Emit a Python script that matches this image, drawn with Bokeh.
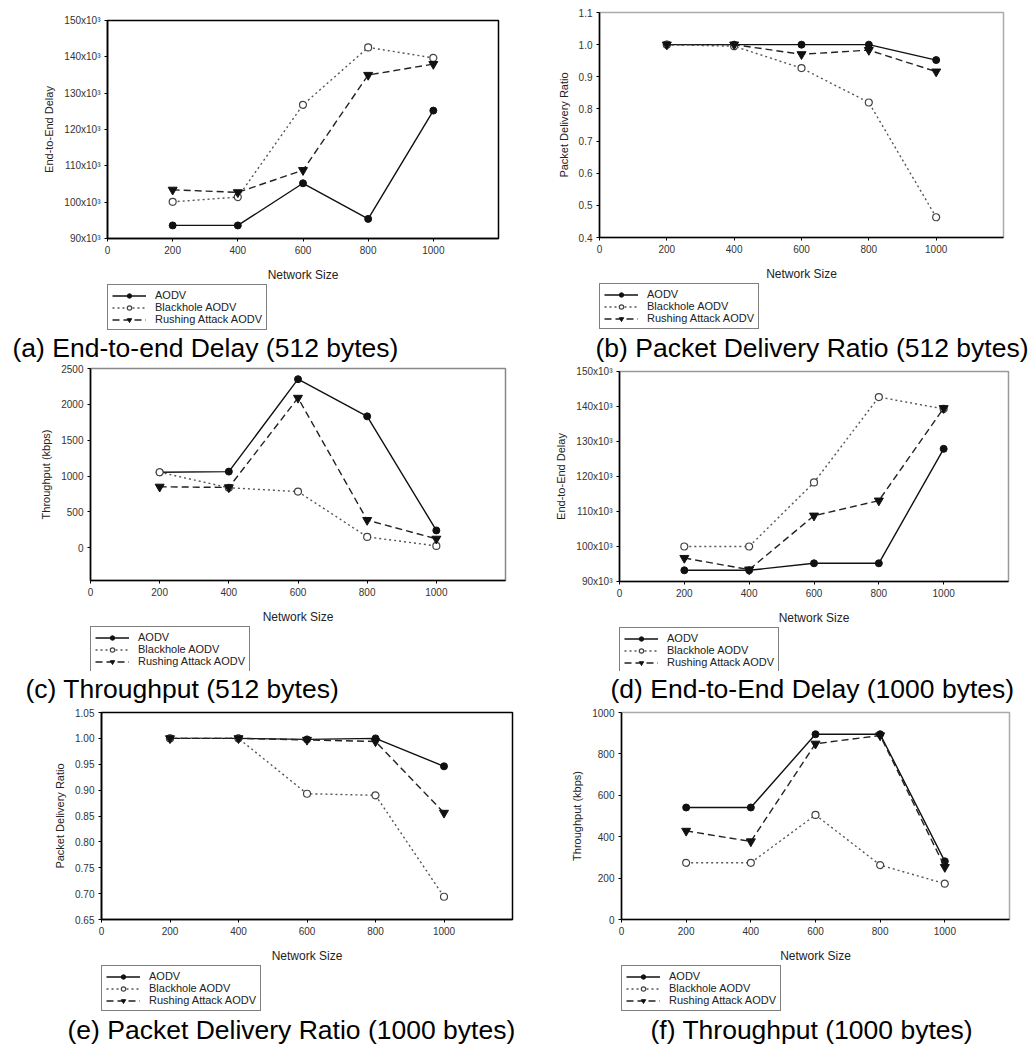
from bokeh.plotting import figure
from bokeh.layouts import column, row
from bokeh.models import Legend, LegendItem, FixedTicker, PrintfTickFormatter, Range1d
from bokeh.embed import file_html
from bokeh.resources import INLINE

# ---------------- data ----------------
network_size = [200, 400, 600, 800, 1000]
series_labels = ["AODV", "Blackhole AODV", "Rushing Attack AODV"]
x_title = "Network Size"

# (a) End-to-end delay, 512 bytes (x10^3)
a_aodv = [93.6, 93.6, 105.2, 95.4, 125.2]
a_blackhole = [100.1, 101.4, 126.8, 142.6, 139.7]
a_rushing = [103.4, 102.7, 108.8, 135.0, 138.0]
# (b) Packet delivery ratio, 512 bytes
b_aodv = [1.0, 1.0, 1.0, 1.0, 0.952]
b_blackhole = [1.0, 0.995, 0.927, 0.82, 0.463]
b_rushing = [1.0, 1.0, 0.970, 0.983, 0.916]
# (c) Throughput, 512 bytes (kbps)
c_aodv = [1054, 1063, 2351, 1833, 243]
c_blackhole = [1054, 838, 784, 153, 27]
c_rushing = [851, 842, 2090, 387, 126]
# (d) End-to-end delay, 1000 bytes (x10^3)
d_aodv = [93.2, 93.2, 95.2, 95.2, 127.9]
d_blackhole = [100.0, 100.0, 118.3, 142.7, 139.3]
d_rushing = [96.7, 93.4, 108.8, 113.1, 139.5]
# (e) Packet delivery ratio, 1000 bytes
e_aodv = [1.0, 1.0, 0.998, 1.0, 0.946]
e_blackhole = [1.0, 1.0, 0.893, 0.890, 0.694]
e_rushing = [1.0, 1.0, 0.997, 0.994, 0.856]
# (f) Throughput, 1000 bytes (kbps)
f_aodv = [541, 541, 895, 895, 281]
f_blackhole = [274, 274, 505, 263, 173]
f_rushing = [428, 377, 849, 889, 253]

x_ticks = [0, 200, 400, 600, 800, 1000]
delay_ticks = [90, 100, 110, 120, 130, 140, 150]
pdr512_ticks = [0.4, 0.5, 0.6, 0.7, 0.8, 0.9, 1.0, 1.1]
pdr1000_ticks = [0.65, 0.70, 0.75, 0.80, 0.85, 0.90, 0.95, 1.00, 1.05]
thr512_ticks = [0, 500, 1000, 1500, 2000, 2500]
thr1000_ticks = [0, 200, 400, 600, 800, 1000]

captions = [
    "(a)  End-to-end Delay (512 bytes)",
    "(b) Packet Delivery Ratio (512 bytes)",
    "(c) Throughput (512 bytes)",
    "(d) End-to-End Delay (1000 bytes)",
    "(e) Packet Delivery Ratio (1000 bytes)",
    "(f) Throughput (1000 bytes)",
]
y_titles = ["End-to-End Delay", "Packet Delivery Ratio", "Throughput (kbps)",
            "End-to-End Delay", "Packet Delivery Ratio", "Throughput (kbps)"]

FONT = "Liberation Sans"
NAN = float("nan")

STYLES = [
    dict(line=dict(line_color="#111111", line_width=1.4),
         mark=dict(marker="circle", size=7, fill_color="#111111", line_color="#111111")),
    dict(line=dict(line_color="#555555", line_width=1.4, line_dash="2 3"),
         mark=dict(marker="circle", size=7, fill_color="white", line_color="#444444",
                   line_width=1.2)),
    dict(line=dict(line_color="#222222", line_width=1.4, line_dash="7 4"),
         mark=dict(marker="inverted_triangle", size=9, fill_color="#111111",
                   line_color="#111111")),
]


def make_chart(series, y_title, y_range, y_ticks, y_fmt,
               height, borders, outline_color):
    bl, br, bt, bb = borders
    p = figure(width=515, height=height,
               min_border_left=bl, min_border_right=br,
               min_border_top=bt, min_border_bottom=bb,
               x_range=Range1d(0, 1200), y_range=Range1d(*y_range),
               output_backend="svg", toolbar_location=None)
    p.grid.visible = False
    p.background_fill_color = "white"
    p.border_fill_color = "white"
    p.outline_line_color = outline_color
    p.outline_line_width = 1.5

    p.xaxis.ticker = FixedTicker(ticks=x_ticks)
    p.yaxis.ticker = FixedTicker(ticks=y_ticks)
    p.yaxis.formatter = PrintfTickFormatter(format=y_fmt)
    p.xaxis.axis_label = x_title
    p.yaxis.axis_label = y_title
    for ax in (p.xaxis[0], p.yaxis[0]):
        ax.axis_line_color = "black"
        ax.axis_line_width = 1.6
        ax.major_tick_line_color = "black"
        ax.major_tick_out = 3
        ax.major_tick_in = 0
        ax.minor_tick_out = 0
        ax.minor_tick_in = 0
        ax.major_label_text_font = FONT
        ax.major_label_text_font_size = "10px"
        ax.major_label_text_color = "#333333"
        ax.axis_label_text_font = FONT
        ax.axis_label_text_font_size = "12px"
        ax.axis_label_text_font_style = "normal"
        ax.axis_label_text_color = "#222222"
        ax.major_label_standoff = 4
    p.xaxis.axis_label_standoff = 11
    p.yaxis.axis_label_standoff = 6
    p.yaxis.axis_label_text_font_size = "11px"

    for vals, st in zip(series, STYLES):
        p.line(network_size, vals, **st["line"])
        p.scatter(network_size, vals, **st["mark"])
    return p


def make_foot(caption, height, border_left, border_right, cap_bottom, cap_offset):
    f = figure(width=515, height=height,
               min_border_left=border_left, min_border_right=border_right,
               min_border_top=0, min_border_bottom=cap_bottom,
               x_range=Range1d(0, 1), y_range=Range1d(0, 1),
               x_axis_location=None, y_axis_location=None,
               output_backend="svg", toolbar_location=None,
               title=caption, title_location="below")
    f.grid.visible = False
    f.outline_line_color = None
    f.background_fill_color = "white"
    f.border_fill_color = "white"
    items = []
    for label, st in zip(series_labels, STYLES):
        # legend-only renderers (no visible data of their own)
        lr = f.line(x=[NAN], y=[NAN], **st["line"])
        mr = f.scatter(x=[NAN], y=[NAN], **st["mark"])
        items.append(LegendItem(label=label, renderers=[lr, mr]))
    legend = Legend(items=items, location="top_left", orientation="vertical",
                    label_text_font=FONT, label_text_font_size="11px",
                    label_text_color="#222222",
                    glyph_width=34, glyph_height=11, label_height=11,
                    label_standoff=9, spacing=0, padding=4, margin=0,
                    border_line_color="black", border_line_width=1.5,
                    background_fill_color="white")
    f.add_layout(legend, "center")
    f.title.text_font = FONT
    f.title.text_font_size = "26.5px"
    f.title.text_font_style = "normal"
    f.title.text_color = "black"
    f.title.align = "left"
    f.title.offset = cap_offset
    f.title.standoff = 0
    return f


borders_frame_h = [224, 230, 220, 217, 216, 216]


def cell(series, idx, y_range, y_ticks, y_fmt, cell_h, borders, outline,
         cap_bottom, cap_offset):
    bl, br, bt, bb = borders
    chart_h = bt + borders_frame_h[idx] + bb
    chart = make_chart(series, y_titles[idx], y_range, y_ticks, y_fmt,
                       chart_h, borders, outline)
    foot = make_foot(captions[idx], cell_h - chart_h, bl, br, cap_bottom, cap_offset)
    return column(chart, foot)


ca = cell((a_aodv, a_blackhole, a_rushing), 0, (90, 150), delay_ticks, "%dx10³",
          362, (107, 17, 20, 40), "black", 30, -95)
cb = cell((b_aodv, b_blackhole, b_rushing), 1, (0.4, 1.1), pdr512_ticks, "%.1f",
          362, (84, 27, 12, 41), "#aaaaaa", 30, -4)
cc = cell((c_aodv, c_blackhole, c_rushing), 2, (-455, 2500), thr512_ticks, "%d",
          341, (90, 10, 6, 38), "#888888", 30, -65)
cd = cell((d_aodv, d_blackhole, d_rushing), 3, (90, 150), delay_ticks, "%dx10³",
          341, (104, 22, 9, 39), "#999999", 30, -9)
ce = cell((e_aodv, e_blackhole, e_rushing), 4, (0.65, 1.05), pdr1000_ticks, "%.2f",
          343, (101, 3, 9, 37), "black", 34, -34)
cf = cell((f_aodv, f_blackhole, f_rushing), 5, (0, 1000), thr1000_ticks, "%d",
          343, (106, 21, 9, 37), "#aaaaaa", 34, 29)

layout = column(row(ca, cb), row(cc, cd), row(ce, cf))
open("out.html", "w").write(file_html(layout, INLINE))
